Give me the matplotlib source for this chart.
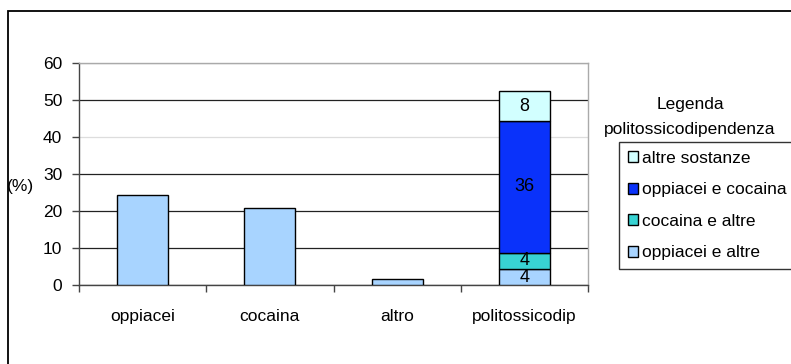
import matplotlib
matplotlib.use("Agg")
import matplotlib.pyplot as plt
from matplotlib.patches import Patch, Rectangle

plt.rcParams['font.family'] = ['Liberation Sans', 'DejaVu Sans']

categories = ["oppiacei", "cocaina", "altro", "politossicodip"]
single_values = [24.3, 20.8, 1.6]
stack_names = ["oppiacei e altre", "cocaina e altre", "oppiacei e cocaina", "altre sostanze"]
stack_values = [4.3, 4.4, 35.6, 8.1]
stack_labels = ["4", "4", "36", "8"]
stack_colors = ["#A8D4FF", "#38D3D3", "#0A32FA", "#D2FFFF"]
yticks = [0, 10, 20, 30, 40, 50, 60]

FS = 12.5

fig = plt.figure(figsize=(7.91, 3.64), dpi=100)
ax = fig.add_axes([79/791, 1-285/364, (588-79)/791, (285-63)/364])

w = 0.4
ax.bar(range(3), single_values, width=w, color=stack_colors[0], edgecolor="black", linewidth=1, zorder=3)
bottom = 0
for name, v, lab, c in zip(stack_names, stack_values, stack_labels, stack_colors):
    bc = ax.bar([3], [v], bottom=bottom, width=w, color=c, edgecolor="black", linewidth=1, zorder=3, label=name)
    ax.bar_label(bc, labels=[lab], label_type="center", fontsize=13, zorder=4)
    bottom += v

ax.set_xlim(-0.5, 3.5)
ax.set_ylim(0, 60)
ax.set_yticks(yticks)
ax.set_xticks(range(4))
ax.set_xticklabels(categories, fontsize=FS)
ax.set_xticks([-0.5, 0.5, 1.5, 2.5, 3.5], minor=True)
ax.tick_params(axis="x", which="major", length=0, pad=17.5)
ax.tick_params(axis="x", which="minor", length=5, width=1, color="#444444", direction="out")
ax.tick_params(axis="y", length=5, width=1, color="#444444", pad=7, labelsize=FS)

ax.grid(axis="y", color="#222222", linewidth=0.9, zorder=0)
for t, gl in zip(ax.get_yticks(), ax.get_ygridlines()):
    if t in (40,):
        gl.set_color("#dddddd")
    if t in (60,):
        gl.set_color("#aaaaaa")
for s in ["left", "bottom"]:
    ax.spines[s].set_color("#444444")
    ax.spines[s].set_linewidth(1)
for s in ["top", "right"]:
    ax.spines[s].set_color("#aaaaaa")
    ax.spines[s].set_linewidth(1)

fig.text(20/791, 1-187/364, "(%)", fontsize=FS, ha="center", va="center")

handles, labels = ax.get_legend_handles_labels()
leg = fig.legend(handles[::-1], labels[::-1], loc="upper left",
                 bbox_to_anchor=(619/791, 1-142/364), borderaxespad=0,
                 fontsize=FS, frameon=True, fancybox=False, edgecolor="black",
                 handlelength=0.6, handleheight=0.6, handletextpad=0.25,
                 labelspacing=0.95, borderpad=0.5)
leg.get_frame().set_linewidth(1)
for h in leg.legend_handles:
    h.set_linewidth(1)

fig.text(690/791, 1-104/364, "Legenda", fontsize=FS, ha="center", va="center")
fig.text(690/791, 1-129/364, "politossicodipendenza", fontsize=FS, ha="center", va="center")

fig.patches.append(Rectangle((8/791, -0.1), 1.2, 0.1 + 1 - 11/364, transform=fig.transFigure,
                             fill=False, edgecolor="black", linewidth=1.3, figure=fig))

fig.savefig("out.png", dpi=100)
